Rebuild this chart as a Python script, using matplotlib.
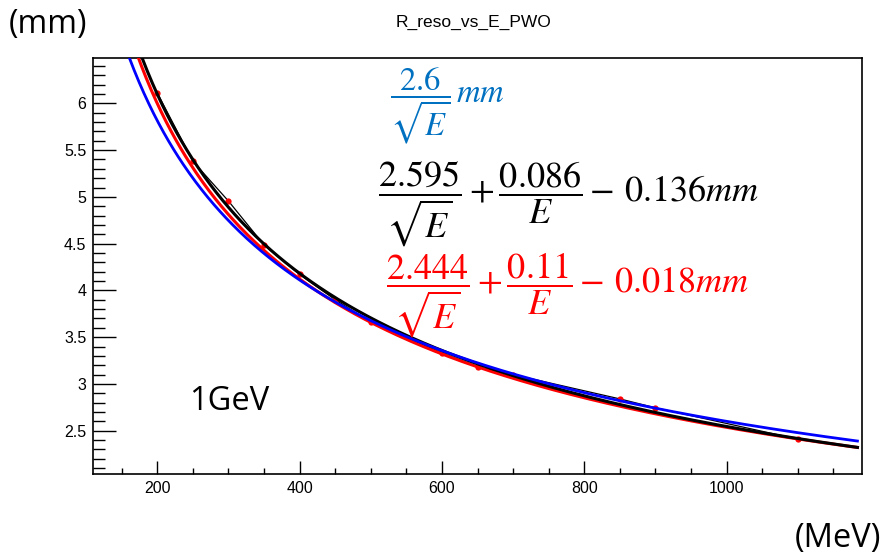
import numpy as np
import matplotlib
matplotlib.use("Agg")
import matplotlib.pyplot as plt
from matplotlib.ticker import MultipleLocator

# ---- data ----
energy_mev = [200, 250, 300, 350, 400, 450, 500, 600, 650, 700, 850, 900, 1100]
resolution_mm = [6.11, 5.38, 4.955, 4.485, 4.17, 3.90, 3.66, 3.33, 3.18, 3.10, 2.84, 2.745, 2.41]

# fit coefficients a/sqrt(E) + b/E + c  (E in GeV), as printed on the chart
blue_coef = [2.6, 0.0, 0.0]
black_coef = [2.595, 0.086, -0.136]
red_coef = [2.444, 0.11, -0.018]
fit_range_mev = [150, 1184]

x_ticks = [200, 400, 600, 800, 1000]
y_ticks = [2.5, 3, 3.5, 4, 4.5, 5, 5.5, 6]

plt.rcParams['mathtext.fontset'] = 'stix'
plt.rcParams['font.family'] = ['Liberation Sans', 'DejaVu Sans']

fig = plt.figure(figsize=(8.86, 5.57), dpi=100)
ax = fig.add_axes([93.3 / 886, 1 - 474 / 557, (861.7 - 93.3) / 886, (474 - 57.5) / 557])

def fit(coef, e_mev):
    e = np.asarray(e_mev) / 1000.0
    return coef[0] / np.sqrt(e) + coef[1] / e + coef[2]

e_curve = np.linspace(fit_range_mev[0], fit_range_mev[1], 600)

ax.plot(energy_mev, resolution_mm, color='black', lw=0.9, zorder=2)
ax.plot(energy_mev, resolution_mm, 'o', color='red', ms=4.5, mec='none', zorder=2)
ax.plot(e_curve, fit(red_coef, e_curve), color='red', lw=2.2, zorder=3)
ax.plot(e_curve, fit(black_coef, e_curve), color='black', lw=2.2, zorder=4)
ax.plot(e_curve, fit(blue_coef, e_curve), color='blue', lw=2.0, zorder=5)

ax.set_xlim(110, 1190)
ax.set_ylim(2.037, 6.49)
ax.set_xticks(x_ticks)
ax.set_xticklabels([str(v) for v in x_ticks])
ax.set_yticks(y_ticks)
ax.set_yticklabels([('%g' % v) for v in y_ticks])
ax.xaxis.set_minor_locator(MultipleLocator(50))
ax.yaxis.set_minor_locator(MultipleLocator(0.1))
ax.tick_params(axis='x', which='major', direction='in', length=9.4, width=1, labelsize=11.5, pad=5)
ax.tick_params(axis='x', which='minor', direction='in', length=4.5, width=1)
ax.tick_params(axis='y', which='major', direction='in', length=16.3, width=1, labelsize=11.5, pad=5)
ax.tick_params(axis='y', which='minor', direction='in', length=8.4, width=1)
for s in ax.spines.values():
    s.set_linewidth(1.2)
    s.set_color('black')

# titles and labels
fig.text(473 / 886, 1 - 22 / 557, 'R_reso_vs_E_PWO', ha='center', va='center', fontsize=12.5)
fig.text(9 / 886, 1 - 24 / 557, '(mm)', ha='left', va='center', fontsize=23,
         family=['Open Sans', 'DejaVu Sans'])
fig.text(881 / 886, 1 - 538 / 557, '(MeV)', ha='right', va='center', fontsize=23.5,
         family=['Open Sans', 'DejaVu Sans'])
fig.text(229 / 886, 1 - 402 / 557, '1GeV', ha='center', va='center', fontsize=23.5,
         family=['Open Sans', 'DejaVu Sans'])

# equations
fig.text(390 / 886, 1 - 106 / 557, r'$\dfrac{2.6}{\sqrt{E}}\,mm$', ha='left', va='center',
         fontsize=23.5, color='#0070C0')
fig.text(378 / 886, 1 - 204 / 557, r'$\dfrac{2.595}{\sqrt{E}}+\dfrac{0.086}{E}-\,0.136mm$',
         ha='left', va='center', fontsize=26, color='black')
fig.text(386 / 886, 1 - 295 / 557, r'$\dfrac{2.444}{\sqrt{E}}+\dfrac{0.11}{E}-\,0.018mm$',
         ha='left', va='center', fontsize=26, color='red')

fig.savefig('out.png', dpi=100)
